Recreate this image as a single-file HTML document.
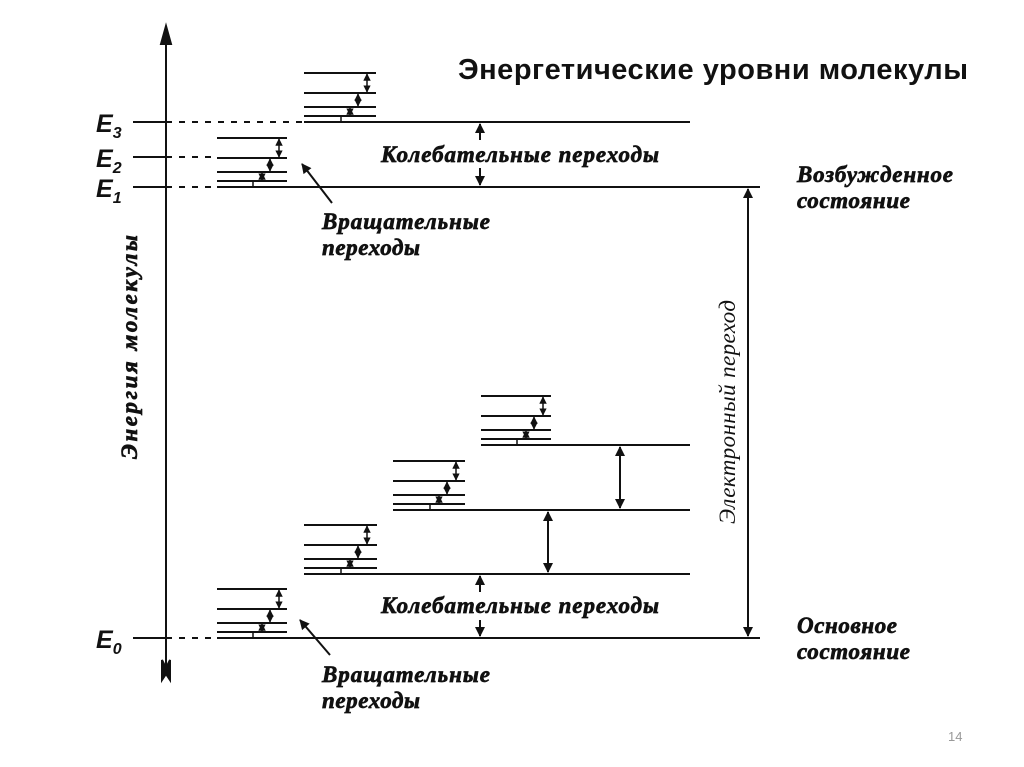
<!DOCTYPE html>
<html><head><meta charset="utf-8"><style>
html,body{margin:0;padding:0;background:#fff;}
svg{display:block;}
.it{font-family:"Liberation Serif",serif;font-style:italic;font-weight:bold;font-size:23px;fill:#111;stroke:#111;stroke-width:0.7px;}
</style></head><body>
<svg width="1024" height="767" viewBox="0 0 1024 767" xmlns="http://www.w3.org/2000/svg">
<defs>
<marker id="s" viewBox="0 0 10 10" refX="9" refY="5" markerWidth="5" markerHeight="5" orient="auto-start-reverse"><path d="M0,0L10,5L0,10z" fill="#111"/></marker>
<marker id="b" viewBox="0 0 10 10" refX="9" refY="5" markerWidth="6" markerHeight="5" orient="auto-start-reverse"><path d="M0,0L10,5L0,10z" fill="#111"/></marker>
</defs>
<g stroke="#111" stroke-width="2" fill="none">
<line x1="166" y1="40" x2="166" y2="668"/>
<path d="M166,26 L161,44 L171,44 Z" fill="#111"/>
<path d="M162,660 L166,668 L170,660 L170,680 L166,674 L162,680 Z" fill="#111"/>
<line x1="133" y1="122" x2="166" y2="122"/><line x1="166" y1="122" x2="304" y2="122" stroke-dasharray="6,7"/>
<line x1="133" y1="157" x2="166" y2="157"/><line x1="166" y1="157" x2="217" y2="157" stroke-dasharray="6,7"/>
<line x1="133" y1="187" x2="166" y2="187"/><line x1="166" y1="187" x2="217" y2="187" stroke-dasharray="6,7"/>
<line x1="133" y1="638" x2="166" y2="638"/><line x1="166" y1="638" x2="217" y2="638" stroke-dasharray="6,7"/>
<line x1="217" y1="187" x2="760" y2="187"/>
<line x1="304" y1="122" x2="690" y2="122"/>
<line x1="217" y1="638" x2="760" y2="638"/>
<line x1="304" y1="574" x2="690" y2="574"/>
<line x1="393" y1="510" x2="690" y2="510"/>
<line x1="481" y1="445" x2="690" y2="445"/>
</g>
<g stroke="#111" stroke-width="2" fill="none">
<line x1="217" y1="181" x2="287" y2="181"/><line x1="217" y1="172" x2="287" y2="172"/><line x1="217" y1="158" x2="287" y2="158"/><line x1="217" y1="138" x2="287" y2="138"/>
<line x1="304" y1="116" x2="376" y2="116"/><line x1="304" y1="107" x2="376" y2="107"/><line x1="304" y1="93" x2="376" y2="93"/><line x1="304" y1="73" x2="376" y2="73"/>
<line x1="217" y1="632" x2="287" y2="632"/><line x1="217" y1="623" x2="287" y2="623"/><line x1="217" y1="609" x2="287" y2="609"/><line x1="217" y1="589" x2="287" y2="589"/>
<line x1="304" y1="568" x2="377" y2="568"/><line x1="304" y1="559" x2="377" y2="559"/><line x1="304" y1="545" x2="377" y2="545"/><line x1="304" y1="525" x2="377" y2="525"/>
<line x1="393" y1="504" x2="465" y2="504"/><line x1="393" y1="495" x2="465" y2="495"/><line x1="393" y1="481" x2="465" y2="481"/><line x1="393" y1="461" x2="465" y2="461"/>
<line x1="481" y1="439" x2="551" y2="439"/><line x1="481" y1="430" x2="551" y2="430"/><line x1="481" y1="416" x2="551" y2="416"/><line x1="481" y1="396" x2="551" y2="396"/>
</g>
<g stroke="#111" stroke-width="1.5">
<line x1="253" y1="181" x2="253" y2="187"/><line x1="262" y1="180" x2="262" y2="173" marker-start="url(#s)" marker-end="url(#s)"/><line x1="270" y1="171" x2="270" y2="159" marker-start="url(#s)" marker-end="url(#s)"/><line x1="279" y1="157" x2="279" y2="139" marker-start="url(#s)" marker-end="url(#s)"/>
<line x1="341" y1="116" x2="341" y2="122"/><line x1="350" y1="115" x2="350" y2="108" marker-start="url(#s)" marker-end="url(#s)"/><line x1="358" y1="106" x2="358" y2="94" marker-start="url(#s)" marker-end="url(#s)"/><line x1="367" y1="92" x2="367" y2="74" marker-start="url(#s)" marker-end="url(#s)"/>
<line x1="253" y1="632" x2="253" y2="638"/><line x1="262" y1="631" x2="262" y2="624" marker-start="url(#s)" marker-end="url(#s)"/><line x1="270" y1="622" x2="270" y2="610" marker-start="url(#s)" marker-end="url(#s)"/><line x1="279" y1="608" x2="279" y2="590" marker-start="url(#s)" marker-end="url(#s)"/>
<line x1="341" y1="568" x2="341" y2="574"/><line x1="350" y1="567" x2="350" y2="560" marker-start="url(#s)" marker-end="url(#s)"/><line x1="358" y1="558" x2="358" y2="546" marker-start="url(#s)" marker-end="url(#s)"/><line x1="367" y1="544" x2="367" y2="526" marker-start="url(#s)" marker-end="url(#s)"/>
<line x1="430" y1="504" x2="430" y2="510"/><line x1="439" y1="503" x2="439" y2="496" marker-start="url(#s)" marker-end="url(#s)"/><line x1="447" y1="494" x2="447" y2="482" marker-start="url(#s)" marker-end="url(#s)"/><line x1="456" y1="480" x2="456" y2="462" marker-start="url(#s)" marker-end="url(#s)"/>
<line x1="517" y1="439" x2="517" y2="445"/><line x1="526" y1="438" x2="526" y2="431" marker-start="url(#s)" marker-end="url(#s)"/><line x1="534" y1="429" x2="534" y2="417" marker-start="url(#s)" marker-end="url(#s)"/><line x1="543" y1="415" x2="543" y2="397" marker-start="url(#s)" marker-end="url(#s)"/>
</g>
<g stroke="#111" stroke-width="2" fill="none">
<line x1="620" y1="447" x2="620" y2="508" marker-start="url(#b)" marker-end="url(#b)"/>
<line x1="548" y1="512" x2="548" y2="572" marker-start="url(#b)" marker-end="url(#b)"/>
<line x1="748" y1="189" x2="748" y2="636" marker-start="url(#b)" marker-end="url(#b)"/>
<line x1="480" y1="140" x2="480" y2="124" marker-end="url(#b)"/>
<line x1="480" y1="168" x2="480" y2="185" marker-end="url(#b)"/>
<line x1="480" y1="592" x2="480" y2="576" marker-end="url(#b)"/>
<line x1="480" y1="620" x2="480" y2="636" marker-end="url(#b)"/>
<line x1="332" y1="203" x2="302" y2="164" marker-end="url(#b)"/>
<line x1="330" y1="655" x2="300" y2="620" marker-end="url(#b)"/>
</g>
<g font-family="Liberation Sans,sans-serif" font-style="italic" font-weight="bold" font-size="25" fill="#111">
<text x="96" y="132">E<tspan font-size="16" dy="6">3</tspan></text>
<text x="96" y="167">E<tspan font-size="16" dy="6">2</tspan></text>
<text x="96" y="197">E<tspan font-size="16" dy="6">1</tspan></text>
<text x="96" y="648">E<tspan font-size="16" dy="6">0</tspan></text>
</g>
<text class="it" x="381" y="162" textLength="278">Колебательные переходы</text>
<text class="it" x="381" y="613" textLength="278">Колебательные переходы</text>
<text class="it" x="322" y="229" textLength="168">Вращательные</text>
<text class="it" x="322" y="255" textLength="98">переходы</text>
<text class="it" x="322" y="682" textLength="168">Вращательные</text>
<text class="it" x="322" y="708" textLength="98">переходы</text>
<text class="it" x="797" y="182" textLength="156">Возбужденное</text>
<text class="it" x="797" y="208" textLength="113">состояние</text>
<text class="it" x="797" y="633" textLength="100">Основное</text>
<text class="it" x="797" y="659" textLength="113">состояние</text>
<text class="it" font-size="25" transform="translate(137,347) rotate(-90)" text-anchor="middle" textLength="224">Энергия молекулы</text>
<text font-family="Liberation Serif,serif" font-style="italic" font-size="23" fill="#111" transform="translate(735,412) rotate(-90)" text-anchor="middle" textLength="224">Электронный переход</text>
<text x="458" y="79" font-family="Liberation Sans,sans-serif" font-weight="bold" font-size="29" fill="#111" textLength="510">Энергетические уровни молекулы</text>
<text x="948" y="741" font-family="Liberation Sans,sans-serif" font-size="13" fill="#999">14</text>
</svg>
</body></html>
